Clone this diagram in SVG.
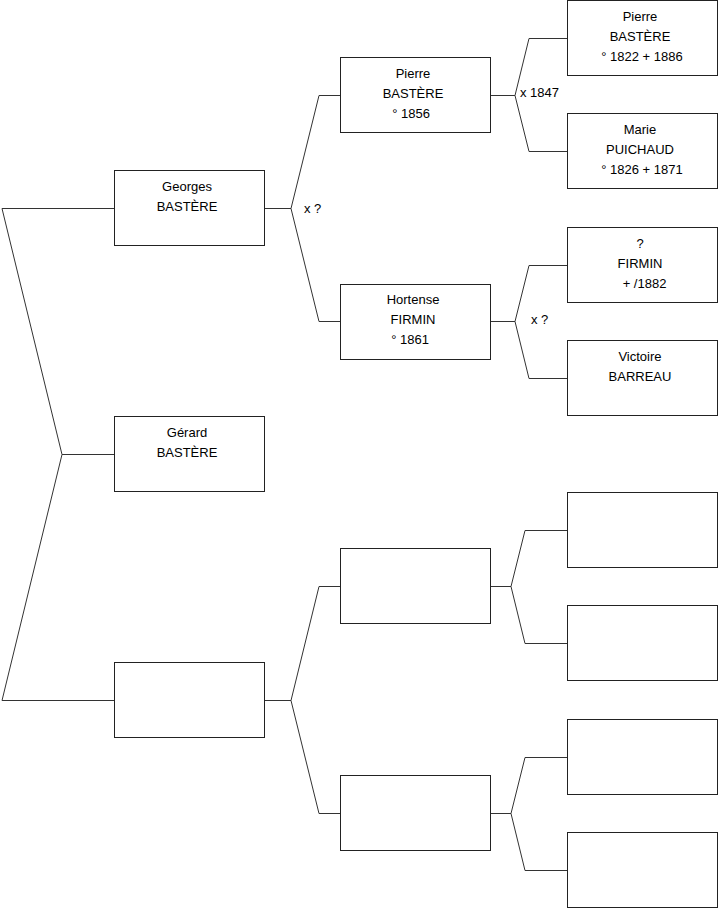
<svg xmlns="http://www.w3.org/2000/svg" width="719" height="908" viewBox="0 0 719 908">
<style>
.box{fill:#fff;stroke:#222;stroke-width:1}
.c{fill:none;stroke:#333;stroke-width:1}
text{font-family:"Liberation Sans",Arial,sans-serif;font-size:13px;fill:#000}
.m{text-anchor:middle}
</style>
<rect width="719" height="908" fill="#fff"/>
<g id="connectors">
<path class="c" d="M114,208.5 H2 L62,454.5 L2,700.5 H114 M62,454.5 H114"/>
<path class="c" d="M265,208.5 H291 M340,95.5 H319 L291,208.5 L319,321.5 H340"/>
<path class="c" d="M265,700.5 H291 M340,586.5 H319 L291,700.5 L319,813.5 H340"/>
<path class="c" d="M491,95.5 H515 M567,38.5 H529 L515,95.5 L529,151.5 H567"/>
<path class="c" d="M491,321.5 H515 M567,265.5 H529 L515,321.5 L529,378.5 H567"/>
<path class="c" d="M491,586.5 H511 M567,530.5 H525 L511,586.5 L525,643.5 H567"/>
<path class="c" d="M491,813.5 H511 M567,757.5 H525 L511,813.5 L525,870.5 H567"/>
<text x="304" y="213">x ?</text>
<text x="520" y="97">x 1847</text>
<text x="531" y="324">x ?</text>
</g>
<g id="georges"><rect class="box" x="114.5" y="170.5" width="150" height="75"/><text class="m" x="187" y="191">Georges</text><text class="m" x="187" y="211">BASTÈRE</text></g>
<g id="gerard"><rect class="box" x="114.5" y="416.5" width="150" height="75"/><text class="m" x="187" y="437">Gérard</text><text class="m" x="187" y="457">BASTÈRE</text></g>
<g id="mother"><rect class="box" x="114.5" y="662.5" width="150" height="75"/></g>
<g id="pierre2"><rect class="box" x="340.5" y="57.5" width="150" height="75"/><text class="m" x="413" y="78">Pierre</text><text class="m" x="413" y="98">BASTÈRE</text><text class="m" x="411" y="118">° 1856</text></g>
<g id="hortense"><rect class="box" x="340.5" y="284.5" width="150" height="75"/><text class="m" x="413" y="304">Hortense</text><text class="m" x="413" y="324">FIRMIN</text><text class="m" x="410" y="344">° 1861</text></g>
<g id="g2c"><rect class="box" x="340.5" y="548.5" width="150" height="75"/></g>
<g id="g2d"><rect class="box" x="340.5" y="775.5" width="150" height="75"/></g>
<g id="pierre3"><rect class="box" x="567.5" y="0.5" width="150" height="75"/><text class="m" x="640" y="21">Pierre</text><text class="m" x="640" y="41">BASTÈRE</text><text class="m" x="642" y="61">° 1822 + 1886</text></g>
<g id="marie"><rect class="box" x="567.5" y="113.5" width="150" height="75"/><text class="m" x="640" y="134">Marie</text><text class="m" x="640" y="154">PUICHAUD</text><text class="m" x="642" y="174">° 1826 + 1871</text></g>
<g id="firmin"><rect class="box" x="567.5" y="227.5" width="150" height="75"/><text class="m" x="640" y="248">?</text><text class="m" x="640" y="268">FIRMIN</text><text class="m" x="644.5" y="288">+ /1882</text></g>
<g id="victoire"><rect class="box" x="567.5" y="340.5" width="150" height="75"/><text class="m" x="640" y="361">Victoire</text><text class="m" x="640" y="381">BARREAU</text></g>
<g id="g3e"><rect class="box" x="567.5" y="492.5" width="150" height="75"/></g>
<g id="g3f"><rect class="box" x="567.5" y="605.5" width="150" height="75"/></g>
<g id="g3g"><rect class="box" x="567.5" y="719.5" width="150" height="75"/></g>
<g id="g3h"><rect class="box" x="567.5" y="832.5" width="150" height="75"/></g>
</svg>
